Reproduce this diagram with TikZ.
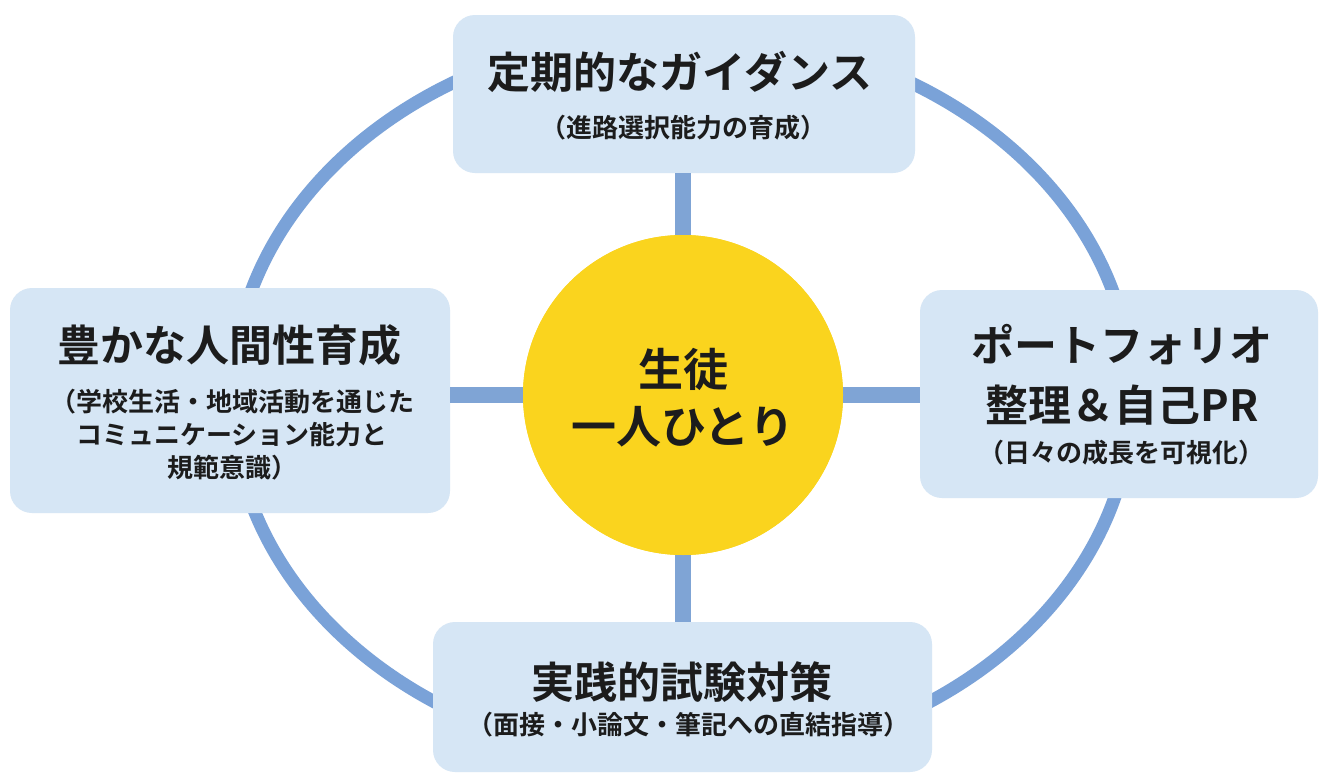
\documentclass[tikz,border=0pt]{standalone}
\usepackage{fontspec}
\newfontfamily\jpb{Noto Sans CJK JP Bold}
\definecolor{ringblue}{HTML}{7AA2D8}
\definecolor{connblue}{HTML}{7FA4D5}
\definecolor{boxfill}{HTML}{D6E6F5}
\definecolor{hubfill}{HTML}{FAD41E}
\definecolor{ink}{HTML}{1C1C1C}
\tikzset{
  ring/.style={draw=ringblue, line width=13pt},
  conn/.style={draw=connblue, line width=16pt},
  card/.style={rectangle, rounded corners=22pt, fill=boxfill, draw=none, inner sep=0pt},
  hubnode/.style={circle, fill=hubfill, draw=none, inner sep=0pt, minimum size=320pt},
  ttl/.style={text=ink, inner sep=0pt, font=\jpb\fontsize{43}{60}\selectfont},
  sub/.style={text=ink, inner sep=0pt, align=center, font=\jpb\fontsize{26}{33}\selectfont},
  hubtxt/.style={text=ink, inner sep=0pt, align=center, font=\jpb\fontsize{45}{57}\selectfont},
}
\begin{document}
\begin{tikzpicture}[x=1pt, y=-1pt]
\useasboundingbox (0,0) rectangle (1320,777);
\fill[white] (0,0) rectangle (1320,777);
% outer ring
\draw[ring] (682,397) ellipse [x radius=450, y radius=365];
% boxes and hub
\node[hubnode] (hub) at (683,395) {};
\node[card, minimum width=462pt, minimum height=158pt] (top) at (684,94) {};
\node[card, minimum width=440pt, minimum height=225pt] (left) at (230,400.5) {};
\node[card, minimum width=398pt, minimum height=208pt] (right) at (1119,394) {};
\node[card, minimum width=499pt, minimum height=150pt] (bottom) at (682.5,697) {};
% connectors
\draw[conn, shorten >=-12pt] (top.south -| hub.north) -- (hub.north);
\draw[conn, shorten <=-12pt] (hub.south) -- (hub.south |- bottom.north);
\draw[conn, shorten >=-12pt] (hub.west -| left.east) -- (hub.west);
\draw[conn, shorten <=-12pt] (hub.east) -- (hub.east -| right.west);
% hub on top of connector ends
\node[hubnode] (hubtop) at (hub) {};
% texts
\node[hubtxt] (hubt) at (683,398) {生徒\\一人ひとり};
\node[ttl] (topt) at (680,72) {定期的なガイダンス};
\node[sub] (tops) at (683,128) {（進路選択能力の育成）};
\node[ttl] (leftt) at (229,345) {豊かな人間性育成};
\node[sub] (lefts) at (232,435) {（学校生活・地域活動を通じた\\コミュニケーション能力と\\規範意識）};
\node[ttl, align=center] (rightt) at (1122,375) {ポートフォリオ\\整理＆自己PR};
\node[sub] (rights) at (1121,453) {（日々の成長を可視化）};
\node[ttl] (bott) at (682,682) {実践的試験対策};
\node[sub] (bots) at (688,725) {（面接・小論文・筆記への直結指導）};
\end{tikzpicture}
\end{document}
